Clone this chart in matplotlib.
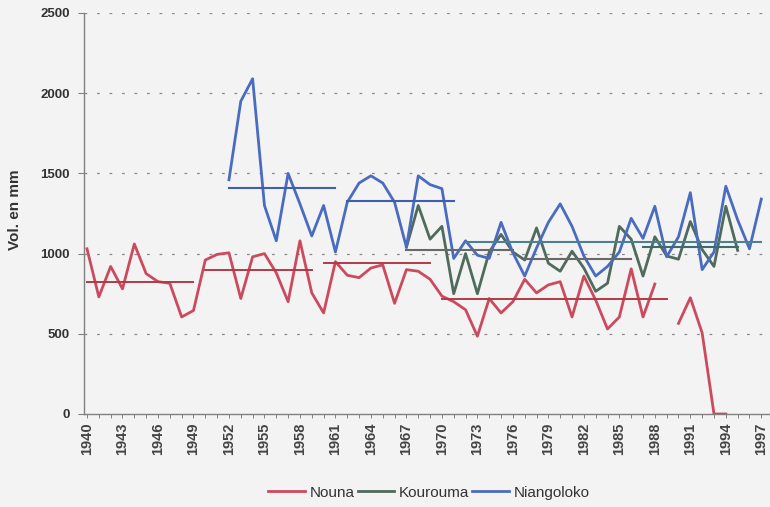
import matplotlib
matplotlib.use('Agg')
import matplotlib.pyplot as plt
import numpy as np

nan = np.nan
years = list(range(1940, 1998))

nouna = [1030, 730, 920, 780, 1060, 875, 825, 815, 605, 645,
         960, 995, 1005, 720, 980, 1000, 880, 700, 1080, 755,
         630, 950, 865, 850, 910, 930, 690, 900, 890, 840,
         735, 700, 650, 485, 720, 630, 700, 840, 755, 805,
         825, 605, 860, 710, 530, 605, 905, 605, 810, nan,
         565, 725, 505, 0, 0, nan, nan, nan]

kourouma = [nan] * 27 + [1040, 1300, 1090,
            1170, 750, 1000, 750, 1010, 1120, 1010, 960, 1160, 940,
            890, 1015, 910, 765, 815, 1170, 1090, 860, 1105, 985,
            965, 1200, 1025, 920, 1295, 1020, nan, nan]

niangoloko = [nan] * 12 + [1460, 1950, 2090, 1300, 1080, 1500, 1310, 1110,
              1300, 1010, 1320, 1440, 1485, 1440, 1320, 1040, 1485, 1430,
              1405, 970, 1080, 990, 970, 1195, 1005, 860, 1035, 1195,
              1310, 1170, 985, 860, 920, 1010, 1220, 1095, 1295, 980,
              1105, 1380, 900, 1010, 1420, 1210, 1030, 1340]

# mean segments: (start year, end year, value)
nouna_means = [(1940, 1949, 822), (1950, 1959, 898), (1960, 1969, 944), (1970, 1989, 716)]
kourouma_means = [(1967, 1976, 1025), (1977, 1986, 965), (1987, 1995, 1044)]
niangoloko_means = [(1952, 1961, 1410), (1962, 1971, 1327), (1972, 1997, 1072)]

series_names = ['Nouna', 'Kourouma', 'Niangoloko']
yticks = [0, 500, 1000, 1500, 2000, 2500]
xtick_years = list(range(1940, 1998, 3))

plt.rcParams['font.family'] = ['Liberation Sans', 'DejaVu Sans']
plt.rcParams['lines.scale_dashes'] = False

bg = '#f3f3f3'
c_nouna = '#cc4a5e'
c_nouna_m = '#b23a46'
c_kour = '#4f6b5c'
c_kour_m = ['#686868', '#686868', '#3f6b70']
c_nia = '#4a6cc0'
c_nia_m = ['#3f5fa8', '#3f5fa8', '#4f8090']

fig = plt.figure(figsize=(7.7, 5.07), dpi=100, facecolor=bg)
ax = fig.add_axes([84 / 770, 93 / 507, 686 / 770, 401 / 507])
ax.set_facecolor(bg)

x = np.array(years)
ax.plot(x, nouna, color=c_nouna, lw=2.0, label=series_names[0], zorder=3)
ax.plot(x, kourouma, color=c_kour, lw=2.0, label=series_names[1], zorder=3)
ax.plot(x, niangoloko, color=c_nia, lw=2.0, label=series_names[2], zorder=3)

for (a, b, v) in nouna_means:
    ax.plot([a, b], [v, v], color=c_nouna_m, lw=1.4, zorder=4)
for (a, b, v), c in zip(kourouma_means, c_kour_m):
    ax.plot([a, b], [v, v], color=c, lw=1.5, zorder=4)
for (a, b, v), c in zip(niangoloko_means, c_nia_m):
    ax.plot([a, b], [v, v], color=c, lw=1.5, zorder=4)

ax.set_xlim(1940 - 3 / 11.83, 1940 + 683 / 11.83)
ax.set_ylim(0, 2500)

ax.set_yticks(yticks)
ax.set_yticklabels([str(t) for t in yticks], fontsize=9.5, fontweight='bold', color='#333333')
ax.set_xticks(xtick_years)
ax.set_xticklabels([str(t) for t in xtick_years], rotation=90, fontsize=10.5,
                   fontweight='bold', color='#444444')
ax.set_xticks(years, minor=True)
ax.tick_params(axis='y', length=4, width=0.8, color='#808080', pad=6)
ax.tick_params(axis='x', which='both', length=3, width=0.7, color='#808080', pad=3)

for yv in yticks[1:]:
    ax.axhline(yv, color='#8a8a8a', lw=0.9, linestyle=(0, (2, 7)), zorder=1)

for s in ['top', 'right']:
    ax.spines[s].set_visible(False)
for s in ['left', 'bottom']:
    ax.spines[s].set_color('#808080')
    ax.spines[s].set_linewidth(1.0)

ax.set_ylabel('Vol. en mm', fontsize=11, fontweight='bold', color='#333333')
ax.yaxis.set_label_coords(-0.09, 0.51)

handles, labels = ax.get_legend_handles_labels()
fig.legend(handles, labels, loc='center', bbox_to_anchor=(0.557, 0.028), ncol=3,
           frameon=False, fontsize=11, handlelength=2.4, handletextpad=0.3,
           columnspacing=0.2, labelcolor='#333333')

fig.savefig('out.png', dpi=100, facecolor=bg)
